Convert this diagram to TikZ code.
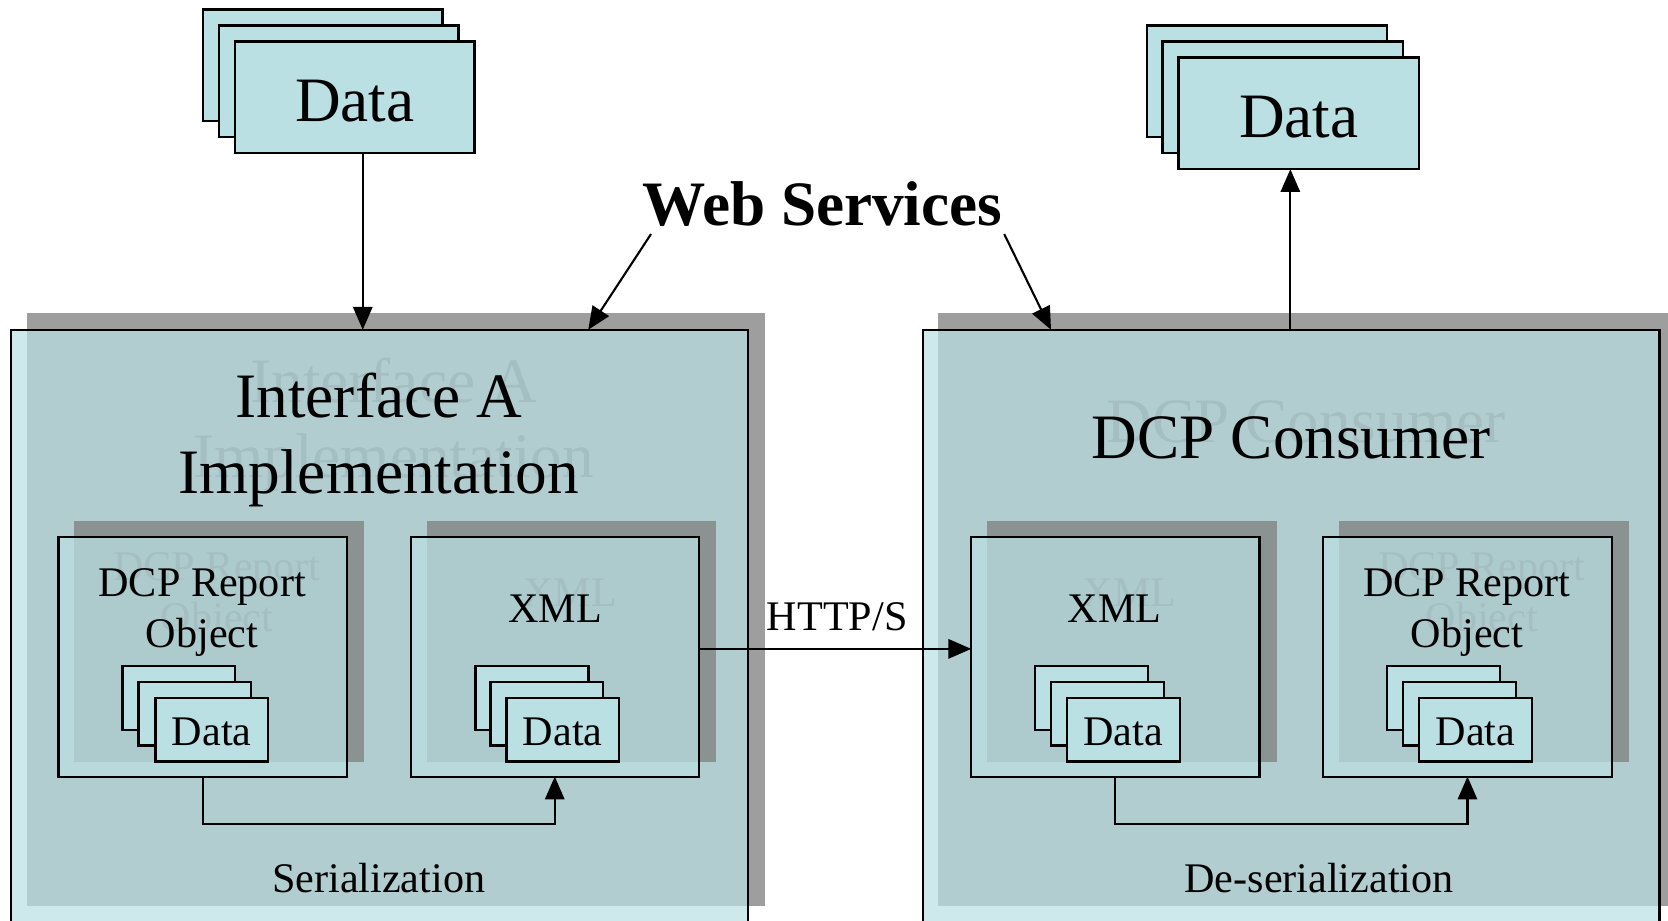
\documentclass[tikz,border=0pt]{standalone}
\usepackage{fontspec}
\setmainfont{Liberation Serif}
\usetikzlibrary{arrows.meta}
\definecolor{boxcyan}{RGB}{187,224,227}
\definecolor{shadowgray}{RGB}{158,158,158}
\definecolor{innershadow}{RGB}{138,146,146}
\definecolor{ghostgray}{RGB}{105,105,105}
\begin{document}
\begin{tikzpicture}[x=0.3027pt,y=-0.3027pt,
  dims/.style 2 args={minimum width=#1*0.3027pt,minimum height=#2*0.3027pt},
  panel/.style={draw,line width=0.6pt,fill=boxcyan,fill opacity=0.72,anchor=north west,inner sep=0pt,outer sep=0pt},
  backdrop/.style={fill=shadowgray,anchor=north west,inner sep=0pt,outer sep=0pt},
  innerdrop/.style={backdrop,fill=innershadow},
  sheet/.style={draw,line width=0.7pt,fill=boxcyan,anchor=north west,inner sep=0pt,outer sep=0pt},
  bigtxt/.style={font=\fontsize{18}{21.6}\selectfont,align=center},
  smalltxt/.style={font=\fontsize{12}{14.4}\selectfont,align=center},
  bigdata/.style={bigtxt,text height=14pt,text depth=0pt},
  smalldata/.style={smalltxt,text height=9.1pt,text depth=0pt},
  ghost/.style={text=ghostgray},
  link/.style={line width=0.6pt,-{Triangle[length=6.5pt,width=5.5pt]}}]
\useasboundingbox (0,0) rectangle (1568,865);
\clip (0,0) rectangle (1568,865);
%shadows of the two sides, titles showing through
\node[backdrop,dims={694}{558}] (ifashadow) at (25,294) {};
\node[backdrop,dims={800}{558}] (consshadow) at (882,294) {};
\node[bigtxt,ghost] (ifaghost) at (370,399) {Interface A\\Implementation};
\node[bigtxt,ghost,anchor=base] (consghost) at (1228,416) {DCP Consumer};
\node[panel,dims={693}{600}] (ifa) at (10,310) {};
\node[panel,dims={692}{600}] (cons) at (868,310) {};
%inner boxes
\node[innerdrop,dims={272}{226}] (lashadow) at (70,490) {};
\node[innerdrop,dims={272}{226}] (lbshadow) at (401,490) {};
\node[innerdrop,dims={272}{226}] (rashadow) at (928,490) {};
\node[innerdrop,dims={272}{226}] (rbshadow) at (1259,490) {};
\node[smalltxt,ghost] (laghost) at (204,561) {DCP Report\\Object};
\node[smalltxt,ghost,anchor=base] (lbghost) at (536,570) {XML};
\node[smalltxt,ghost,anchor=base] (raghost) at (1062,570) {XML};
\node[smalltxt,ghost] (rbghost) at (1393,561) {DCP Report\\Object};
\node[panel,dims={271}{225}] (la) at (55,505) {};
\node[panel,dims={271}{225}] (lb) at (386,505) {};
\node[panel,dims={271}{225}] (ra) at (913,505) {};
\node[panel,dims={271}{225}] (rb) at (1244,505) {};
%labels
\node[bigtxt] (ifatitle) at (356,414) {Interface A\\Implementation};
\node[bigtxt,anchor=base] (constitle) at (1214,431) {DCP Consumer};
\node[smalltxt] (latitle) at (190,576) {DCP Report\\Object};
\node[smalltxt,anchor=base] (lbtitle) at (522,585) {XML};
\node[smalltxt,anchor=base] (ratitle) at (1048,585) {XML};
\node[smalltxt] (rbtitle) at (1379,576) {DCP Report\\Object};
\node[smalltxt,anchor=base] (ser) at (356,839) {Serialization};
\node[smalltxt,anchor=base] (deser) at (1240,839) {De-serialization};
\node[bigtxt,font=\fontsize{18}{21.6}\selectfont\bfseries,anchor=base] (ws) at (773,212) {Web Services};
\node[smalltxt,anchor=base] (http) at (787,593) {HTTP/S};
%data stacks
\node[sheet,dims={225}{105}] (dl1) at (191,9) {};
\node[sheet,dims={225}{105}] (dl2) at (206,24) {};
\node[sheet,dims={225}{105},bigdata] (dl3) at (221,39) {Data};
\node[sheet,dims={226}{105}] (dr1) at (1078,24) {};
\node[sheet,dims={226}{105}] (dr2) at (1093,39) {};
\node[sheet,dims={226}{105},bigdata] (dr3) at (1108,54) {Data};
\node[sheet,dims={106}{60}] (la1) at (115,626) {};
\node[sheet,dims={106}{60}] (la2) at (130,641) {};
\node[sheet,dims={106}{60},smalldata] (la3) at (146,656) {Data};
\node[sheet,dims={106}{60}] (lb1) at (447,626) {};
\node[sheet,dims={106}{60}] (lb2) at (461,641) {};
\node[sheet,dims={106}{60},smalldata] (lb3) at (476,656) {Data};
\node[sheet,dims={106}{60}] (ra1) at (973,626) {};
\node[sheet,dims={106}{60}] (ra2) at (988,641) {};
\node[sheet,dims={106}{60},smalldata] (ra3) at (1003,656) {Data};
\node[sheet,dims={106}{60}] (rb1) at (1304,626) {};
\node[sheet,dims={106}{60}] (rb2) at (1319,641) {};
\node[sheet,dims={106}{60},smalldata] (rb3) at (1334,656) {Data};
%arrows
\coordinate (wsl) at (612,220);
\coordinate (wsr) at (944,220);
\draw[link] (wsl) -- (553,0 |- ifa.north);
\draw[link] (wsr) -- (988,0 |- cons.north);
\draw[link] (341,0 |- dl3.south) -- (341,0 |- ifa.north);
\draw[link] (1213,0 |- cons.north) -- (1213,0 |- dr3.south);
\draw[link] (0,610 -| lb.east) -- (0,610 -| ra.west);
\draw[link] (la.south) -- ++(0,45) -| (lb.south);
\draw[link] (ra.south) -- ++(0,45) -| (rb.south);
\end{tikzpicture}
\end{document}
